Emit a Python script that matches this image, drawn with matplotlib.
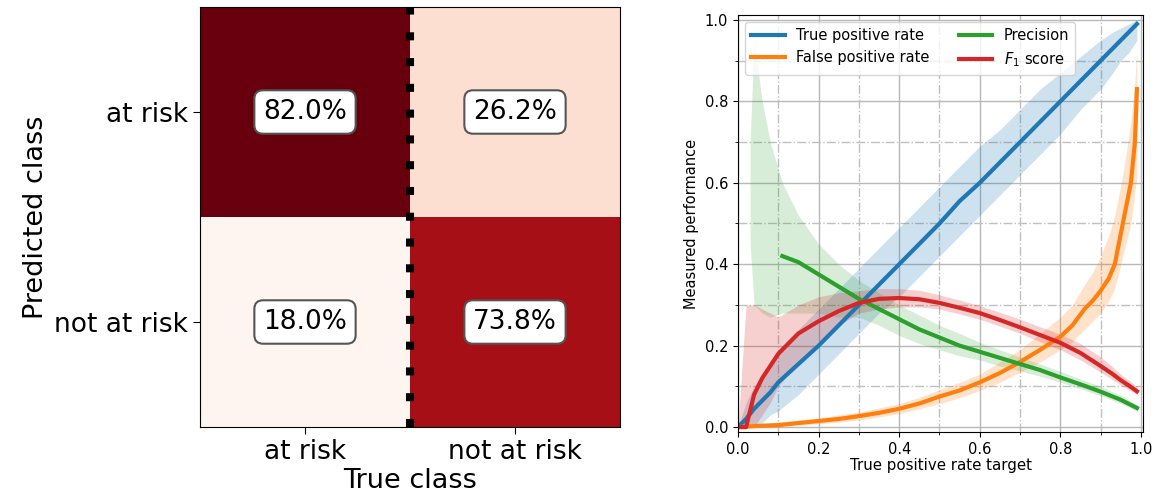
import matplotlib
matplotlib.use("Agg")
import matplotlib.pyplot as plt
import numpy as np

# confusion matrix (column-normalised), rows = predicted, cols = true
classes = ["at risk", "not at risk"]
cm = np.array([[0.820, 0.262],
               [0.180, 0.738]])

# curves
target = [0.0, 0.02, 0.04, 0.06, 0.08, 0.1, 0.15, 0.2, 0.25, 0.3, 0.35, 0.4, 0.45,
          0.5, 0.55, 0.6, 0.65, 0.7, 0.75, 0.8, 0.85, 0.9, 0.93, 0.95, 0.97, 0.99]
tpr_mean = [0.0, 0.02, 0.045, 0.065, 0.085, 0.11, 0.155, 0.2, 0.25, 0.3, 0.35, 0.4, 0.45,
            0.5, 0.555, 0.6, 0.65, 0.7, 0.75, 0.8, 0.85, 0.9, 0.93, 0.95, 0.97, 0.99]
tpr_lo = [0.0, 0.0, 0.0, 0.01, 0.03, 0.04, 0.08, 0.13, 0.18, 0.23, 0.28, 0.32, 0.37,
          0.42, 0.47, 0.52, 0.57, 0.62, 0.67, 0.72, 0.78, 0.83, 0.87, 0.9, 0.92, 0.95]
tpr_hi = [0.0, 0.06, 0.1, 0.13, 0.16, 0.19, 0.24, 0.29, 0.34, 0.39, 0.44, 0.49, 0.54,
          0.59, 0.64, 0.69, 0.73, 0.78, 0.83, 0.87, 0.91, 0.95, 0.97, 0.98, 0.99, 1.0]
f1_mean = [0.0, 0.0, 0.08, 0.12, 0.15, 0.18, 0.23, 0.26, 0.285, 0.305, 0.315, 0.317, 0.314,
           0.305, 0.293, 0.28, 0.263, 0.245, 0.226, 0.207, 0.182, 0.15, 0.13, 0.115, 0.102, 0.088]
f1_lo = [0.0, 0.0, 0.0, 0.03, 0.06, 0.1, 0.16, 0.21, 0.25, 0.28, 0.29, 0.295, 0.295,
         0.29, 0.278, 0.265, 0.248, 0.23, 0.21, 0.19, 0.165, 0.135, 0.116, 0.103, 0.092, 0.08]
f1_hi = [0.0, 0.3, 0.3, 0.29, 0.28, 0.27, 0.3, 0.32, 0.33, 0.335, 0.34, 0.34, 0.336,
         0.325, 0.312, 0.298, 0.282, 0.265, 0.246, 0.228, 0.205, 0.172, 0.148, 0.13, 0.115, 0.1]

fpr_target = [0.0, 0.05, 0.1, 0.15, 0.2, 0.25, 0.3, 0.35, 0.4, 0.45, 0.5, 0.55, 0.6, 0.65,
              0.7, 0.75, 0.8, 0.83, 0.86, 0.88, 0.9, 0.92, 0.935, 0.955, 0.975, 0.985, 0.99]
fpr_mean = [0.0, 0.003, 0.005, 0.01, 0.015, 0.02, 0.027, 0.035, 0.045, 0.058, 0.075, 0.09, 0.11, 0.133,
            0.16, 0.19, 0.222, 0.25, 0.29, 0.31, 0.335, 0.365, 0.4, 0.5, 0.6, 0.7, 0.83]
fpr_lo = [0.0, 0.0, 0.0, 0.005, 0.008, 0.012, 0.018, 0.025, 0.033, 0.045, 0.058, 0.072, 0.09, 0.11,
          0.135, 0.16, 0.19, 0.21, 0.24, 0.26, 0.28, 0.31, 0.34, 0.42, 0.5, 0.58, 0.62]
fpr_hi = [0.0, 0.006, 0.012, 0.017, 0.022, 0.03, 0.037, 0.047, 0.058, 0.073, 0.092, 0.11, 0.13, 0.16,
          0.19, 0.23, 0.27, 0.3, 0.35, 0.38, 0.42, 0.47, 0.52, 0.62, 0.75, 0.85, 0.93]

prec_target = [0.03, 0.04, 0.06, 0.08, 0.11, 0.15, 0.2, 0.25, 0.3, 0.35, 0.4, 0.45, 0.5, 0.55,
               0.6, 0.65, 0.7, 0.75, 0.8, 0.85, 0.9, 0.95, 0.99]
prec_mean = [np.nan, np.nan, np.nan, np.nan, 0.42, 0.405, 0.375, 0.345, 0.315, 0.29, 0.265, 0.24, 0.22, 0.2,
             0.185, 0.17, 0.155, 0.14, 0.122, 0.105, 0.087, 0.067, 0.047]
prec_lo = [0.45, 0.3, 0.28, 0.27, 0.28, 0.28, 0.28, 0.27, 0.27, 0.25, 0.225, 0.205, 0.19, 0.175,
           0.165, 0.15, 0.138, 0.125, 0.11, 0.094, 0.077, 0.058, 0.04]
prec_hi = [0.7, 0.95, 0.8, 0.7, 0.6, 0.52, 0.45, 0.4, 0.36, 0.33, 0.3, 0.275, 0.25, 0.23,
           0.208, 0.19, 0.172, 0.155, 0.137, 0.118, 0.1, 0.078, 0.055]

fig = plt.figure(figsize=(11.56, 4.99), dpi=100)

# ---- confusion matrix ----
ax1 = fig.add_axes([200 / 1156, 72 / 499, 420 / 1156, 420 / 499])
ax1.imshow(cm, cmap="Reds", aspect="auto")
ax1.axvline(0.5, color="black", lw=5.8, linestyle=(0, (1, 2.2)))
for i in range(2):
    for j in range(2):
        ax1.text(j, i, f"{cm[i, j] * 100:.1f}%", ha="center", va="center", fontsize=19,
                 bbox=dict(boxstyle="round,pad=0.33", fc="white", ec="#555555", lw=1.5))
ax1.set_xticks([0, 1], classes, fontsize=19)
ax1.set_yticks([0, 1], classes, fontsize=19)
ax1.tick_params(length=5)
ax1.set_xlabel("True class", fontsize=19.5, labelpad=2)
ax1.set_ylabel("Predicted class", fontsize=19.5)

# ---- performance curves ----
ax2 = fig.add_axes([738 / 1156, 67 / 499, 405 / 1156, 417 / 499])
colors = ["tab:blue", "tab:orange", "tab:green", "tab:red"]
ax2.fill_between(target, tpr_lo, tpr_hi, color=colors[0], alpha=0.22, lw=0)
ax2.fill_between(fpr_target, fpr_lo, fpr_hi, color=colors[1], alpha=0.22, lw=0)
ax2.fill_between(prec_target, prec_lo, prec_hi, color=colors[2], alpha=0.18, lw=0)
ax2.fill_between(target, f1_lo, f1_hi, color=colors[3], alpha=0.22, lw=0)
ax2.plot(target, tpr_mean, color=colors[0], lw=3, label="True positive rate")
ax2.plot(fpr_target, fpr_mean, color=colors[1], lw=3, label="False positive rate")
ax2.plot(prec_target, prec_mean, color=colors[2], lw=3, label="Precision")
ax2.plot(target, f1_mean, color=colors[3], lw=3, label="$F_1$ score")

ax2.set_xlim(0, 1.005)
ax2.set_ylim(-0.012, 1.012)
ax2.set_xticks(np.arange(0, 1.01, 0.2))
ax2.set_yticks(np.arange(0, 1.01, 0.2))
ax2.set_xticks(np.arange(0.1, 1.0, 0.2), minor=True)
ax2.set_yticks(np.arange(0.1, 1.0, 0.2), minor=True)
ax2.grid(which="major", color="#b8b8b8", lw=1)
ax2.grid(which="minor", color="#c0c0c0", lw=1, linestyle="-.")
ax2.set_axisbelow(True)
ax2.tick_params(labelsize=10.5)
ax2.set_xlabel("True positive rate target", fontsize=10.8, labelpad=1)
ax2.set_ylabel("Measured performance", fontsize=10.5)
ax2.legend(loc="upper left", ncol=2, fontsize=10.5, handlelength=2.3)

fig.savefig("out.png", dpi=100)
